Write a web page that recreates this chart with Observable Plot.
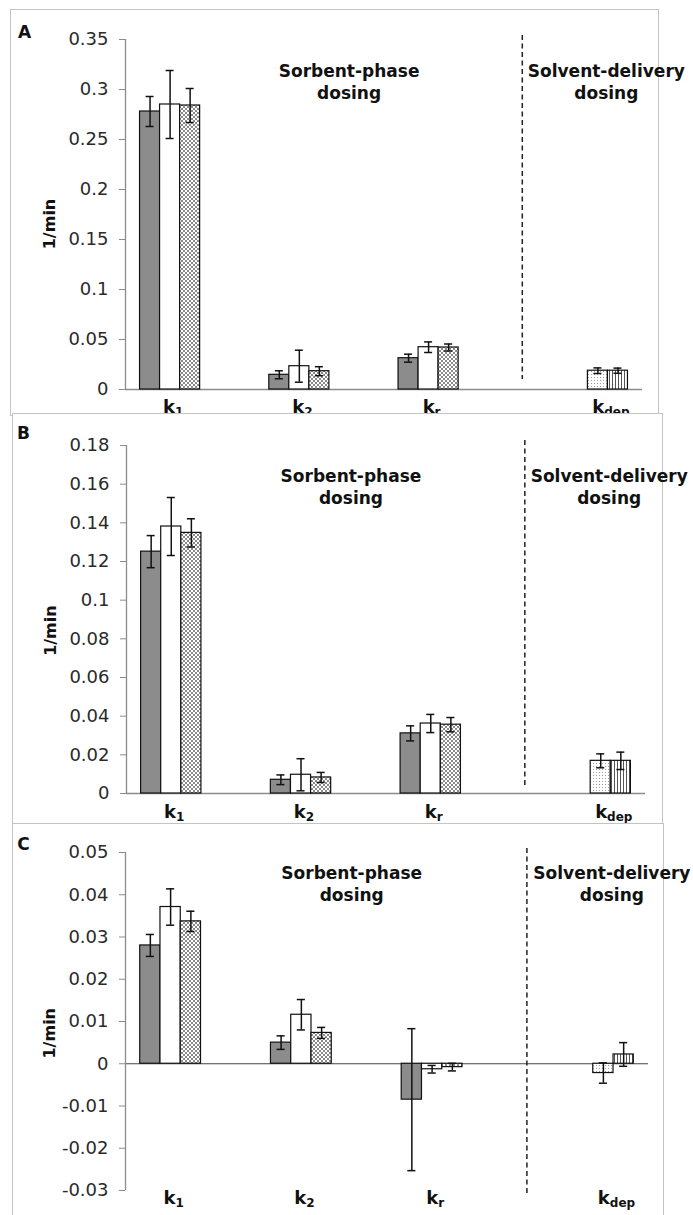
<!DOCTYPE html>
<html>
<head>
<meta charset="utf-8">
<script src="https://cdn.jsdelivr.net/npm/d3@7"></script>
<script src="https://cdn.jsdelivr.net/npm/@observablehq/plot@0.6"></script>
<style>
html, body { margin: 0; padding: 0; background: #fff; width: 693px; height: 1215px; overflow: hidden; }
#root { position: relative; width: 693px; height: 1215px; }
.panel { position: absolute; border: 1px solid #c4c4c4; background: #fff; overflow: visible; }
.panel svg { overflow: visible; display: block; max-width: none; }
</style>
</head>
<body>
<svg width="0" height="0" style="position:absolute">
  <defs>
    <pattern id="pat-hatch" patternUnits="userSpaceOnUse" width="4" height="4">
      <rect width="4" height="4" fill="#fff"/>
      <rect width="2" height="2" fill="#8a8a8a"/>
      <rect x="2" y="2" width="2" height="2" fill="#8a8a8a"/>
    </pattern>
    <pattern id="pat-dots" patternUnits="userSpaceOnUse" width="3" height="3">
      <rect width="3" height="3" fill="#fff"/>
      <rect x="1" y="1" width="1" height="1" fill="#a0a0a0"/>
    </pattern>
    <pattern id="pat-vlines" patternUnits="userSpaceOnUse" width="3" height="3">
      <rect width="3" height="3" fill="#fff"/>
      <rect x="1" y="0" width="1" height="3" fill="#555"/>
    </pattern>
  </defs>
</svg>
<div id="root"></div>
<script>
// ---------- data ----------
const categories = ["k_1", "k_2", "k_r", "k_dep"];
const series = ["gray", "white", "hatched", "dotted", "striped"];

// Panel A
const A_gray     = [0.278, 0.0147, 0.0313, null];
const A_white    = [0.285, 0.0233, 0.0423, null];
const A_hatched  = [0.284, 0.0183, 0.0420, null];
const A_dotted   = [null, null, null, 0.0188];
const A_striped  = [null, null, null, 0.0188];
const A_grayErr    = [0.015, 0.004, 0.004, null];
const A_whiteErr   = [0.034, 0.016, 0.0053, null];
const A_hatchedErr = [0.017, 0.0045, 0.0035, null];
const A_dottedErr  = [null, null, null, 0.0028];
const A_stripedErr = [null, null, null, 0.0026];
const A_ticks = [0, 0.05, 0.1, 0.15, 0.2, 0.25, 0.3, 0.35];

// Panel B
const B_gray     = [0.1251, 0.0071, 0.0311, null];
const B_white    = [0.1381, 0.0097, 0.0362, null];
const B_hatched  = [0.1348, 0.0083, 0.0356, null];
const B_dotted   = [null, null, null, 0.0169];
const B_striped  = [null, null, null, 0.0169];
const B_grayErr    = [0.0083, 0.0025, 0.0039, null];
const B_whiteErr   = [0.0150, 0.0083, 0.0047, null];
const B_hatchedErr = [0.0073, 0.0026, 0.0037, null];
const B_dottedErr  = [null, null, null, 0.0036];
const B_stripedErr = [null, null, null, 0.0045];
const B_ticks = [0, 0.02, 0.04, 0.06, 0.08, 0.1, 0.12, 0.14, 0.16, 0.18];

// Panel C
const C_gray     = [0.0280, 0.0050, -0.0085, null];
const C_white    = [0.0371, 0.0116, -0.0013, null];
const C_hatched  = [0.0337, 0.0073, -0.0008, null];
const C_dotted   = [null, null, null, -0.0022];
const C_striped  = [null, null, null, 0.0022];
const C_grayErr    = [0.0026, 0.0016, 0.0168, null];
const C_whiteErr   = [0.0043, 0.0036, 0.0009, null];
const C_hatchedErr = [0.0024, 0.0013, 0.0009, null];
const C_dottedErr  = [null, null, null, 0.0024];
const C_stripedErr = [null, null, null, 0.0028];
const C_ticks = [-0.03, -0.02, -0.01, 0, 0.01, 0.02, 0.03, 0.04, 0.05];

const yLabel = "1/min";
const noteLeft = "Sorbent-phase\ndosing";
const noteRight = "Solvent-delivery\ndosing";

// ---------- styles ----------
const fills = {gray: "#8c8c8c", white: "#ffffff", hatched: "url(#pat-hatch)", dotted: "url(#pat-dots)", striped: "url(#pat-vlines)"};
const BW = 0.155;   // bar width in category units
const CAP = 0.031;  // half cap width in category units
const font = "DejaVu Sans";

function buildRows(vals, errs) {
  const rows = [];
  series.forEach((s, si) => {
    vals[si].forEach((v, ci) => {
      if (v == null) return;
      rows.push({series: s, si, ci, cat: categories[ci], v, e: errs[si][ci], xc: ci + 0.5 + (si - 2) * BW});
    });
  });
  return rows;
}

function labelRows(rows) {
  return categories.map((cat) => {
    const r = rows.filter((d) => d.cat === cat);
    return {cat, x: d3.mean(r, (d) => d.xc)};
  });
}

const fmt = (d) => String(+d.toFixed(3));

function drawPanel(cfg) {
  const rows = buildRows(cfg.vals, cfg.errs);
  const marks = [
    Plot.ruleY([0], {stroke: cfg.zeroStroke, strokeWidth: cfg.zeroWidth}),
    Plot.ruleX([0], {stroke: "#8c8c8c", strokeWidth: 1.3}),
    Plot.axisY({ticks: cfg.ticks, tickFormat: fmt, tickSize: 6, tickPadding: 11, fontSize: 18, stroke: "#8c8c8c", fill: "#2a2a2a", label: null}),
    ...series.map((s) => Plot.rect(rows.filter((d) => d.series === s), {
      x1: (d) => d.xc - BW / 2, x2: (d) => d.xc + BW / 2, y1: () => 0, y2: (d) => d.v,
      fill: fills[s], stroke: "#111", strokeWidth: 1.2
    })),
    Plot.ruleX(rows, {x: (d) => d.xc, y1: (d) => d.v - d.e, y2: (d) => d.v + d.e, stroke: "#111", strokeWidth: 1.5}),
    Plot.ruleY(rows, {y: (d) => d.v + d.e, x1: (d) => d.xc - CAP, x2: (d) => d.xc + CAP, stroke: "#111", strokeWidth: 1.5}),
    Plot.ruleY(rows, {y: (d) => d.v - d.e, x1: (d) => d.xc - CAP, x2: (d) => d.xc + CAP, stroke: "#111", strokeWidth: 1.5}),
    Plot.ruleX([3.07], {stroke: "#222", strokeWidth: 1.5, strokeDasharray: "5,3.5", insetTop: cfg.ruleInset[0], insetBottom: cfg.ruleInset[1]}),
    Plot.text([noteLeft], {x: () => 1.73, frameAnchor: "top", dy: cfg.noteDy, lineAnchor: "top", lineHeight: 1.3, fontWeight: "bold", fontSize: 17, fill: "#111"}),
    Plot.text([noteRight], {x: () => 3.72, frameAnchor: "top", dy: cfg.noteDy, lineAnchor: "top", lineHeight: 1.3, fontWeight: "bold", fontSize: 17, fill: "#111"}),
    Plot.text(labelRows(rows), {x: (d) => d.x, text: (d) => d.cat, frameAnchor: "bottom", dx: 3, dy: cfg.labelDy, lineAnchor: "middle", fontWeight: "bold", fontSize: 18, fill: "#111"}),
    Plot.text([yLabel], {y: () => cfg.yLabelAt, frameAnchor: "left", textAnchor: "middle", rotate: -90, dx: cfg.yLabelDx, fontWeight: "bold", fontSize: 16, fill: "#111"}),
    Plot.text([cfg.letter], {frameAnchor: "top-left", textAnchor: "middle", dx: cfg.letterPos[0], dy: cfg.letterPos[1], lineAnchor: "middle", fontWeight: "bold", fontSize: 17, fill: "#111"})
  ];
  const svg = Plot.plot({
    width: cfg.width, height: cfg.height,
    marginLeft: cfg.m[0], marginRight: cfg.m[1], marginTop: cfg.m[2], marginBottom: cfg.m[3],
    x: {domain: [0, 4], axis: null},
    y: {domain: cfg.domain},
    style: {fontFamily: font, background: "white", overflow: "visible"},
    marks
  });
  const yScale = svg.scale("y");
  d3.select(svg).selectAll("text").each(function () {
    if (this.childElementCount > 0) return;
    const t = this.textContent;
    if (t === yLabel) {
      // pin the rotated axis title: centered on the chosen y value, left of the axis
      this.parentNode.removeAttribute("transform");
      this.setAttribute("text-anchor", "middle");
      this.setAttribute("dy", "0.32em");
      this.setAttribute("transform", `translate(${cfg.m[0] + cfg.yLabelDx},${yScale.apply(cfg.yLabelAt)}) rotate(-90)`);
      return;
    }
    if (!categories.includes(t)) return;
    // category labels with real subscripts
    const [base, sub] = t.split("_");
    this.textContent = "";
    d3.select(this).append("tspan").text(base);
    d3.select(this).append("tspan").attr("dy", 3).attr("font-size", 12).text(sub);
  });
  const div = document.createElement("div");
  div.className = "panel";
  div.style.left = (cfg.left - 1) + "px";
  div.style.top = (cfg.top - 1) + "px";
  div.style.width = cfg.width + "px";
  div.style.height = cfg.height + "px";
  div.appendChild(svg);
  document.getElementById("root").appendChild(div);
}

drawPanel({
  letter: "A", left: 11, top: 10, width: 647, height: 405, m: [114, 16, 29, 26],
  domain: [0, 0.35], ticks: A_ticks,
  vals: [A_gray, A_white, A_hatched, A_dotted, A_striped],
  errs: [A_grayErr, A_whiteErr, A_hatchedErr, A_dottedErr, A_stripedErr],
  zeroStroke: "#8c8c8c", zeroWidth: 1.5, ruleInset: [-4, 10], noteDy: 22, labelDy: 18,
  yLabelDx: -80, yLabelAt: 0.165, letterPos: [-101, -7]
});
drawPanel({
  letter: "B", left: 13, top: 414, width: 649, height: 409, m: [113, 17, 31, 30],
  domain: [0, 0.18], ticks: B_ticks,
  vals: [B_gray, B_white, B_hatched, B_dotted, B_striped],
  errs: [B_grayErr, B_whiteErr, B_hatchedErr, B_dottedErr, B_stripedErr],
  zeroStroke: "#8c8c8c", zeroWidth: 1.5, ruleInset: [-5, 6], noteDy: 21, labelDy: 19,
  yLabelDx: -80, yLabelAt: 0.084, letterPos: [-103, -12]
});
drawPanel({
  letter: "C", left: 13, top: 824, width: 650, height: 400, m: [112, 15, 28, 34],
  domain: [-0.03, 0.05], ticks: C_ticks,
  vals: [C_gray, C_white, C_hatched, C_dotted, C_striped],
  errs: [C_grayErr, C_whiteErr, C_hatchedErr, C_dottedErr, C_stripedErr],
  zeroStroke: "#444", zeroWidth: 1, ruleInset: [-4, -3], noteDy: 11, labelDy: 8,
  yLabelDx: -80, yLabelAt: 0.0071, letterPos: [-102, -8]
});
</script>
</body>
</html>
